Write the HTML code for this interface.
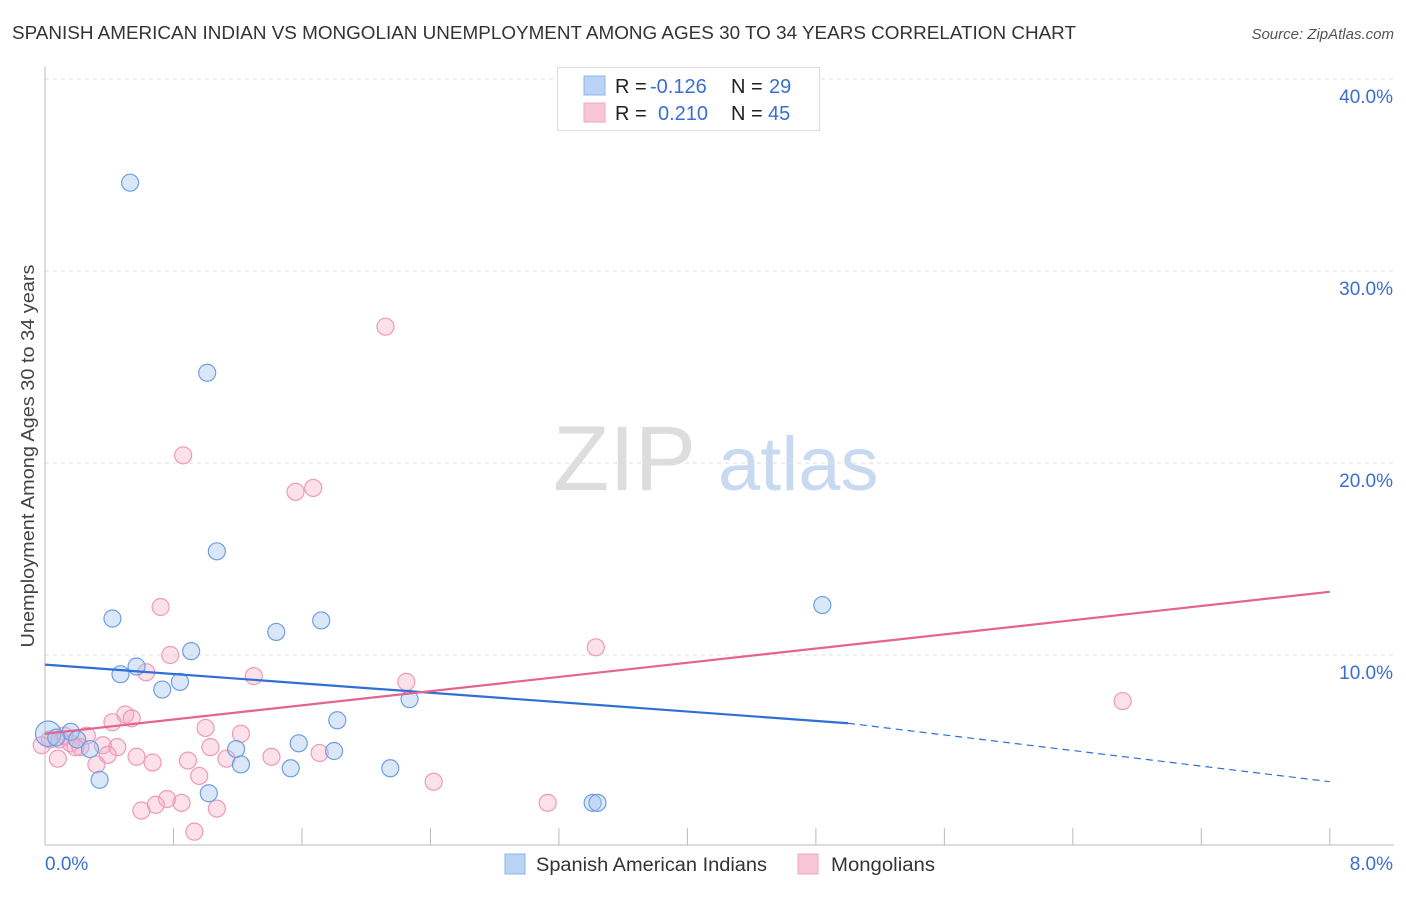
<!DOCTYPE html>
<html><head><meta charset="utf-8"><style>
body{margin:0;background:#fff;font-family:"Liberation Sans",sans-serif}
svg text{font-family:"Liberation Sans",sans-serif}
</style></head><body>
<svg id="chart" width="1406" height="892">
<text x="12" y="39" font-size="18" fill="#333" textLength="1064" lengthAdjust="spacingAndGlyphs">SPANISH AMERICAN INDIAN VS MONGOLIAN UNEMPLOYMENT AMONG AGES 30 TO 34 YEARS CORRELATION CHART</text>
<text x="1394" y="39" font-size="15" fill="#555" font-style="italic" text-anchor="end">Source: ZipAtlas.com</text>
<text x="0" y="0" font-size="18" fill="#444" transform="translate(34,456) rotate(-90)" text-anchor="middle" textLength="383" lengthAdjust="spacingAndGlyphs">Unemployment Among Ages 30 to 34 years</text>
<g><text x="553" y="490" font-size="92" fill="#ddd" font-family="Liberation Serif">ZIP</text><text x="718" y="490" font-size="76" fill="#c8daf2">atlas</text></g>
<g id="grid"></g><g id="axes"></g><g id="marks"></g>
<g>
<rect x="557.5" y="67.5" width="262" height="63" fill="#fff" stroke="#ddd"/>
<rect x="584" y="76" width="21" height="19" fill="#b9d3f5" stroke="#8fb5e8"/>
<rect x="584" y="103" width="21" height="19" fill="#f9c6d6" stroke="#efa6bf"/>
<text x="615" y="93" font-size="20" fill="#222">R = <tspan x="650" fill="#3a6fd0">-0.126</tspan><tspan x="731">N = </tspan><tspan x="769" fill="#3a6fd0">29</tspan></text>
<text x="615" y="120" font-size="20" fill="#222">R = <tspan x="658" fill="#3a6fd0">0.210</tspan><tspan x="731">N = </tspan><tspan x="768" fill="#3a6fd0">45</tspan></text>
</g>
<g>
<rect x="505" y="854" width="20" height="20" fill="#b9d3f5" stroke="#8fb5e8"/>
<text x="536" y="871" font-size="19" fill="#333" textLength="231" lengthAdjust="spacingAndGlyphs">Spanish American Indians</text>
<rect x="798" y="854" width="20" height="20" fill="#f9c6d6" stroke="#efa6bf"/>
<text x="831" y="871" font-size="19" fill="#333" textLength="104" lengthAdjust="spacingAndGlyphs">Mongolians</text>
</g>
</svg>
<script>
const xTicks=[0,8];
const yTicks=[10,20,30,40];
const blueX=[0.53,1.01,1.07,0.42,1.72,1.44,0.91,0.57,0.47,0.84,0.73,2.27,1.82,0.02,0.16,0.2,0.28,1.19,1.58,1.8,1.22,1.53,2.15,0.34,1.02,3.41,3.44,4.84,0.07];
const blueY=[34.6,24.7,15.4,11.9,11.8,11.2,10.2,9.4,9.0,8.6,8.2,7.7,6.6,5.9,6.0,5.6,5.1,5.1,5.4,5.0,4.3,4.1,4.1,3.5,2.8,2.3,2.3,12.6,5.7];
const pinkX=[2.12,0.86,1.56,1.67,0.72,3.43,0.78,0.63,1.3,2.25,6.71,0.5,0.54,0.42,1.0,1.22,0.26,0.09,0.03,0.16,0.22,0.36,0.45,1.03,0.57,0.39,1.41,1.71,0.67,0.89,1.13,0.32,0.08,0.96,2.42,0.76,0.69,0.85,0.6,1.07,0.93,3.13,-0.02,0.12,0.19];
const pinkY=[27.1,20.4,18.5,18.7,12.5,10.4,10.0,9.1,8.9,8.6,7.6,6.9,6.7,6.5,6.2,5.9,5.8,5.6,5.6,5.4,5.2,5.3,5.2,5.2,4.7,4.8,4.7,4.9,4.4,4.5,4.6,4.3,4.6,3.7,3.4,2.5,2.2,2.3,1.9,2.0,0.8,2.3,5.3,5.8,5.2];
const blueR=[1,1,1,1,1,1,1,1,1,1,1,1,1,1.5,1,1,1,1,1,1,1,1,1,1,1,1,1,1,1];
const trendBlue=[9.5,0.126];
const trendPink=[5.9,0.21];
const X=v=>45+v*160.6, Y=v=>847-v*19.2;
const NS='http://www.w3.org/2000/svg';
function mk(t,a,p){const e=document.createElementNS(NS,t);for(const k in a)e.setAttribute(k,a[k]);p.appendChild(e);return e;}
const grid=document.getElementById('grid'),axes=document.getElementById('axes'),marks=document.getElementById('marks');
yTicks.forEach(v=>{
 const l=mk('line',{x1:45,x2:1394,y1:Y(v),y2:Y(v),stroke:'#ddd','stroke-dasharray':'4,4'},grid);
 
 
 const t=mk('text',{x:1393,y:Y(v)+24,'font-size':19,fill:'#3a6fd0','text-anchor':'end'},axes);
 t.textContent=v.toFixed(1)+'%';
 
 
});
const ax=mk('line',{x1:45,x2:45,y1:67,y2:845,stroke:'#bbb'},axes);


const bx=mk('line',{x1:45,x2:1394,y1:845,y2:845,stroke:'#bbb'},axes);


for(let i=1;i<=10;i++){const tk=mk('line',{x1:X(i*0.8),x2:X(i*0.8),y1:828,y2:845,stroke:'#bbb'},axes);
 
 }
xTicks.forEach((v,i)=>{const t=mk('text',{x:i?1393:45,y:870,'font-size':19,fill:'#3a6fd0','text-anchor':i?'end':'start'},axes);
 t.textContent=v.toFixed(1)+'%';
 
 });
pinkX.forEach((x,i)=>{const c=mk('circle',{cx:X(x),cy:Y(pinkY[i]),r:8.5,fill:'rgba(246,170,196,0.35)',stroke:'#ee9ab6','stroke-width':1.2},marks);
 
 });
blueX.forEach((x,i)=>{const c=mk('circle',{cx:X(x),cy:Y(blueY[i]),r:8.5*blueR[i],fill:'rgba(160,195,240,0.4)',stroke:'#6f9fe0','stroke-width':1.2},marks);
 
 });
const tb=mk('line',{x1:X(0),y1:Y(trendBlue[0]),x2:X(5),y2:Y(trendBlue[0]-trendBlue[1]*5*4.85),stroke:'#2f6fd6','stroke-width':2.2},marks);


const tbd=mk('line',{x1:X(5),y1:Y(trendBlue[0]-trendBlue[1]*5*4.85),x2:X(8),y2:Y(trendBlue[0]-trendBlue[1]*8*6.05),stroke:'#2f6fd6','stroke-width':1.2,'stroke-dasharray':'7,5'},marks);


const tp=mk('line',{x1:X(0),y1:Y(trendPink[0]),x2:X(8),y2:Y(trendPink[0]+trendPink[1]*8*4.4),stroke:'#e5638f','stroke-width':2.2},marks);


</script>
</body></html>
